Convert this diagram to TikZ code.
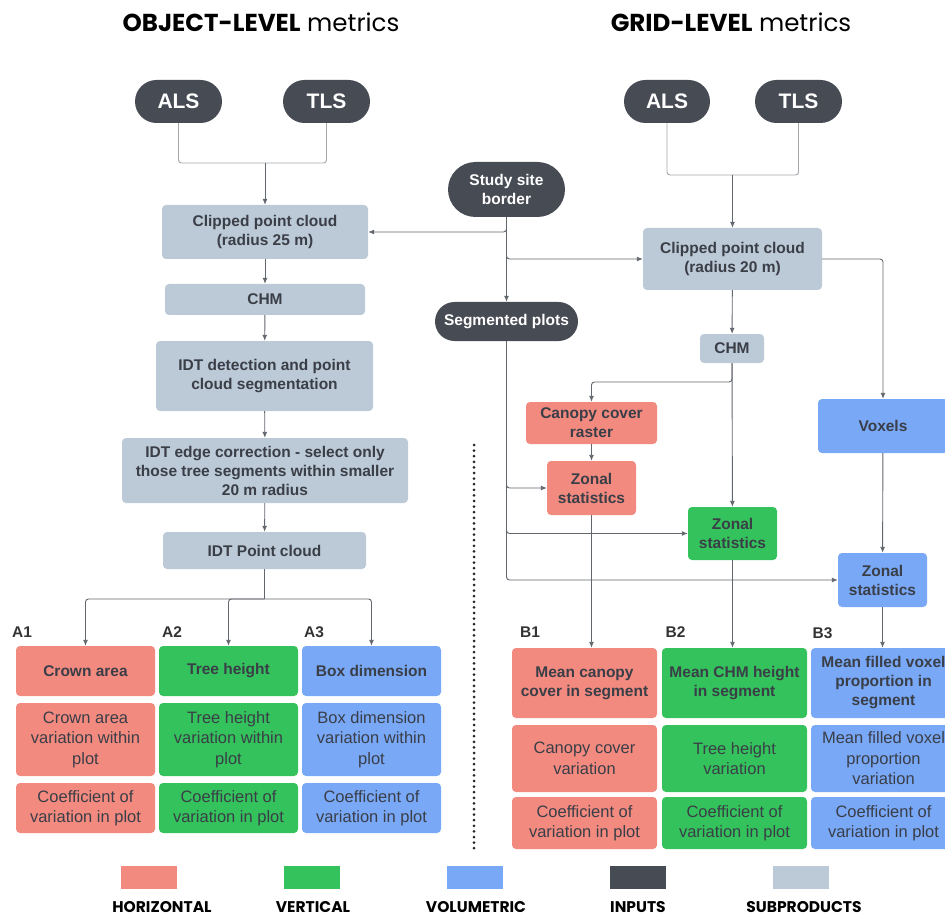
\documentclass[tikz,border=0pt]{standalone}
\usepackage{fontspec}
\setmainfont{Liberation Sans}
\newfontfamily\legfont{Poppins}
\usetikzlibrary{positioning, arrows.meta, calc, shapes.misc}

\definecolor{hcol}{HTML}{F38A80}
\definecolor{vcol}{HTML}{34C25C}
\definecolor{bcol}{HTML}{79A8F7}
\definecolor{inpc}{HTML}{474B53}
\definecolor{subc}{HTML}{BCC9D6}
\definecolor{txt}{HTML}{3A3E47}
\definecolor{linec}{HTML}{62666D}
\definecolor{linel}{HTML}{A3A6AB}

\tikzset{
    box/.style={rectangle, rounded corners=4pt, inner sep=0pt, align=center, text=txt,
        font=\fontsize{15.5}{19}\selectfont\bfseries},
    sub/.style={box, fill=subc},
    hor/.style={box, fill=hcol},
    ver/.style={box, fill=vcol},
    vol/.style={box, fill=bcol},
    lite/.style={font=\fontsize{16.5}{20.5}\selectfont\mdseries},
    inp/.style={rounded rectangle, fill=inpc, text=white, inner sep=0pt, align=center,
        font=\fontsize{15.5}{19}\selectfont\bfseries},
    big/.style={font=\fontsize{21}{24}\selectfont\bfseries},
    wire/.style={draw=linec, line width=0.9pt, rounded corners=3pt, -{Latex[length=6pt,width=5pt]}},
    feed/.style={draw=linel, line width=0.9pt, rounded corners=3pt},
    tag/.style={font=\fontsize{15.5}{18}\selectfont\bfseries, text=black!80},
    leg/.style={font=\legfont\fontsize{15.5}{18}\selectfont\bfseries},
    swatch/.style={rectangle, minimum width=56pt, minimum height=23pt, inner sep=0pt},
}

\begin{document}
\begin{tikzpicture}[x=1pt, y=-1pt]
    \useasboundingbox (0,0) rectangle (945,917);
    \clip (0,0) rectangle (945,917);

    \node[font=\legfont\fontsize{24.5}{28}\selectfont] (titA) at (261,22) {{\bfseries OBJECT-LEVEL} metrics};
    \node[font=\legfont\fontsize{24.5}{28}\selectfont] (titB) at (731,22) {{\bfseries GRID-LEVEL} metrics};

    % object level
    \node[inp, big, minimum width=87pt, minimum height=43pt] (alsL) at (178.5,101.5) {ALS};
    \node[inp, big, minimum width=87pt, minimum height=43pt] (tlsL) at (326.5,101.5) {TLS};
    \node[sub, minimum width=206pt, minimum height=54pt] (clipL) at (265,232) {Clipped point cloud\\(radius 25 m)};
    \node[sub, minimum width=200pt, minimum height=31pt] (chmL) at (265,299.5) {CHM};
    \node[sub, minimum width=217pt, minimum height=70pt] (idtdet) at (264.5,376) {IDT detection and point\\cloud segmentation};
    \node[sub, minimum width=286pt, minimum height=65pt] (idtedge) at (265,470.5) {IDT edge correction - select only\\those tree segments within smaller\\20 m radius};
    \node[sub, minimum width=203pt, minimum height=37pt] (idtpc) at (264.5,550.5) {IDT Point cloud};

    \node[tag] (tA1) at (22,632) {A1};
    \node[tag] (tA2) at (172,632) {A2};
    \node[tag] (tA3) at (314,632) {A3};

    \node[hor, minimum width=139pt, minimum height=50pt] (a1t) at (85.5,671) {Crown area};
    \node[ver, minimum width=139pt, minimum height=50pt] (a2t) at (228.5,671) {Tree height};
    \node[vol, minimum width=139pt, minimum height=50pt] (a3t) at (371.5,671) {Box dimension};
    \node[hor, lite, minimum width=139pt, minimum height=73pt] (a1m) at (85.5,739.5) {Crown area\\variation within\\plot};
    \node[ver, lite, minimum width=139pt, minimum height=73pt] (a2m) at (228.5,739.5) {Tree height\\variation within\\plot};
    \node[vol, lite, minimum width=139pt, minimum height=73pt] (a3m) at (371.5,739.5) {Box dimension\\variation within\\plot};
    \node[hor, lite, minimum width=139pt, minimum height=50pt] (a1b) at (85.5,808) {Coefficient of\\variation in plot};
    \node[ver, lite, minimum width=139pt, minimum height=50pt] (a2b) at (228.5,808) {Coefficient of\\variation in plot};
    \node[vol, lite, minimum width=139pt, minimum height=50pt] (a3b) at (371.5,808) {Coefficient of\\variation in plot};

    % grid level
    \node[inp, big, minimum width=86pt, minimum height=43pt] (alsR) at (667,101.5) {ALS};
    \node[inp, big, minimum width=87pt, minimum height=43pt] (tlsR) at (798.5,101.5) {TLS};
    \node[inp, minimum width=117pt, minimum height=55pt] (ssb) at (506.5,189.5) {Study site\\border};
    \node[inp, minimum width=143pt, minimum height=39pt] (seg) at (506.5,321.5) {Segmented plots};
    \node[sub, minimum width=179pt, minimum height=62pt] (clipR) at (732.5,259) {Clipped point cloud\\(radius 20 m)};
    \node[sub, minimum width=64pt, minimum height=29pt] (chmR) at (732,348.5) {CHM};
    \node[hor, minimum width=131pt, minimum height=42pt] (ccr) at (591.5,423) {Canopy cover\\raster};
    \node[hor, minimum width=89pt, minimum height=54pt] (zsH) at (591.5,488) {Zonal\\statistics};
    \node[ver, minimum width=89pt, minimum height=53pt] (zsV) at (732.5,533.5) {Zonal\\statistics};
    \node[vol, minimum width=130pt, minimum height=54pt] (vox) at (883,426) {Voxels};
    \node[vol, minimum width=89pt, minimum height=54pt] (zsB) at (882.5,580) {Zonal\\statistics};

    \node[tag] (tB1) at (530,632) {B1};
    \node[tag] (tB2) at (675.5,632) {B2};
    \node[tag] (tB3) at (822.5,633) {B3};

    \node[hor, minimum width=145pt, minimum height=70pt] (b1t) at (584.5,683) {Mean canopy\\cover in segment};
    \node[ver, minimum width=145pt, minimum height=70pt] (b2t) at (734.5,683) {Mean CHM height\\in segment};
    \node[vol, minimum width=145pt, minimum height=70pt] (b3t) at (883.5,683) {Mean filled voxel\\proportion in\\segment};
    \node[hor, lite, minimum width=145pt, minimum height=67pt] (b1m) at (584.5,758.5) {Canopy cover\\variation};
    \node[ver, lite, minimum width=145pt, minimum height=67pt] (b2m) at (734.5,758.5) {Tree height\\variation};
    \node[vol, lite, minimum width=145pt, minimum height=67pt] (b3m) at (883.5,758.5) {Mean filled voxel\\proportion\\variation};
    \node[hor, lite, minimum width=145pt, minimum height=52pt] (b1b) at (584.5,823) {Coefficient of\\variation in plot};
    \node[ver, lite, minimum width=145pt, minimum height=52pt] (b2b) at (734.5,823) {Coefficient of\\variation in plot};
    \node[vol, lite, minimum width=145pt, minimum height=52pt] (b3b) at (883.5,823) {Coefficient of\\variation in plot};

    % legend
    \node[swatch, fill=hcol] (lgH) at (149,877.5) {};
    \node[swatch, fill=vcol] (lgV) at (311.5,877.5) {};
    \node[swatch, fill=bcol] (lgB) at (474.5,877.5) {};
    \node[swatch, fill=inpc] (lgI) at (637.5,877.5) {};
    \node[swatch, fill=subc] (lgS) at (800.5,877.5) {};
    \node[leg] (lgHt) at (162,907) {HORIZONTAL};
    \node[leg] (lgVt) at (313,907) {VERTICAL};
    \node[leg] (lgBt) at (476,907) {VOLUMETRIC};
    \node[leg] (lgIt) at (638,907) {INPUTS};
    \node[leg] (lgSt) at (804,907) {SUBPRODUCTS};

    \coordinate (sepT) at (474,445);
    \coordinate (sepB) at (474,851);
    \draw[line width=3pt, line cap=round, dash pattern=on 0pt off 5.6pt, color=black!85] (sepT) -- (sepB);

    % connectors
    \coordinate (jL) at (clipL.north |- 0,163);
    \coordinate (jR) at (clipR.north |- 0,175);
    \coordinate (jA) at (idtpc.south |- 0,599);
    \draw[feed] (alsL) |- (jL);
    \draw[feed] (tlsL) |- (jL);
    \draw[wire] (jL) -- (clipL);
    \draw[wire] (clipL) -- (chmL);
    \draw[wire] (chmL) -- (idtdet);
    \draw[wire] (idtdet) -- (idtedge);
    \draw[wire] (idtedge) -- (idtpc);
    \draw[feed, draw=linec] (idtpc) -- (jA);
    \draw[wire] (jA) -| (a1t);
    \draw[wire] (jA) -| (a2t);
    \draw[wire] (jA) -| (a3t);

    \draw[feed] (alsR) |- (jR);
    \draw[feed] (tlsR) |- (jR);
    \draw[wire] (jR) -- (clipR);
    \draw[wire] (ssb.south) |- (clipL.east);
    \draw[wire] (ssb.south) |- (clipR.west);
    \draw[wire] (ssb) -- (seg);
    \draw[wire] (seg.south) |- (zsH.west);
    \draw[wire] (seg.south) |- (zsV.west);
    \draw[wire] (seg.south) |- (zsB.west);
    \draw[wire] (clipR) -- (chmR);
    \draw[wire] (chmR.south) |- (ccr.north |- 0,382) -- (ccr.north);
    \draw[wire] (chmR) -- (zsV);
    \draw[wire] (ccr) -- (zsH);
    \draw[wire] (clipR.east) -| (vox.north);
    \draw[wire] (vox) -- (zsB);
    \draw[wire] (zsH) -- (zsH |- b1t.north);
    \draw[wire] (zsV) -- (zsV |- b2t.north);
    \draw[wire] (zsB) -- (zsB |- b3t.north);
\end{tikzpicture}
\end{document}
